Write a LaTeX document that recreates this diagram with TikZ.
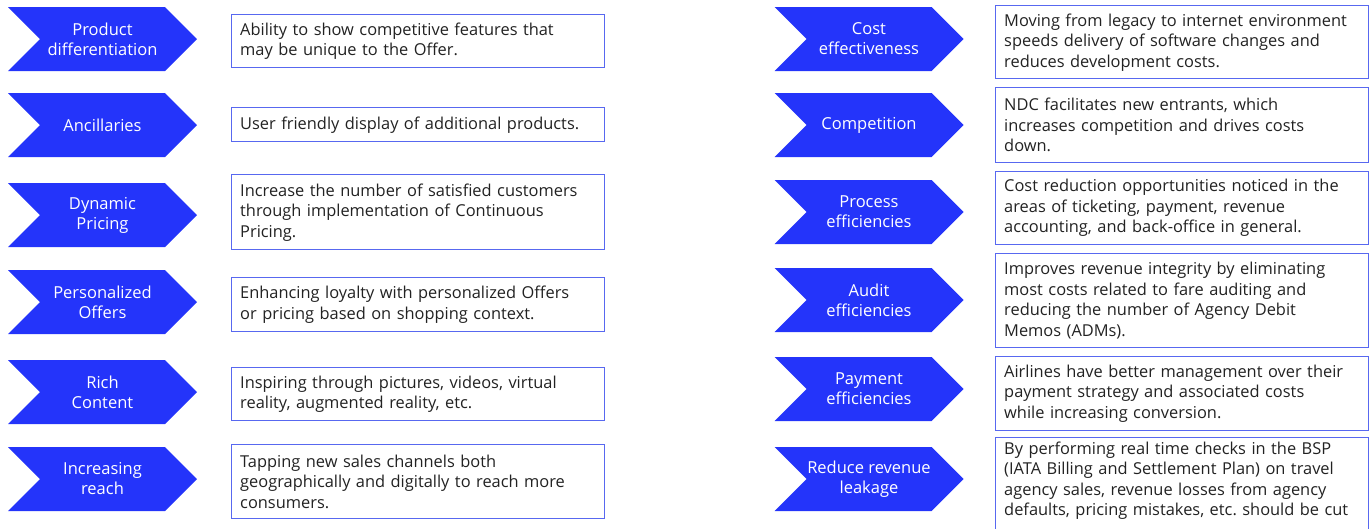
\documentclass[tikz,border=0pt]{standalone}
\usepackage{fontspec}
\setmainfont{Open Sans}
\usetikzlibrary{shapes.symbols}
\definecolor{chevblue}{RGB}{36,52,250}
\definecolor{frameblue}{RGB}{88,104,240}
\definecolor{bodytext}{RGB}{34,34,34}
\frenchspacing

\begin{document}
\begin{tikzpicture}[x=1pt, y=-1pt,
    chevron/.style={signal, signal from=west, signal to=east, signal pointer angle=90,
        fill=chevblue, text=white, align=center, inner sep=0pt,
        minimum width=189pt, minimum height=64pt, font=\fontsize{16.5}{20}\selectfont},
    infobox/.style={draw=frameblue, line width=1.4pt, anchor=north west, text=bodytext,
        align=left, text width=356pt, inner xsep=8.5pt, inner ysep=4pt,
        font=\fontsize{16.4}{20.5}\selectfont}]

    \useasboundingbox (0,0) rectangle (1372,528);

    \node[chevron] (prod) at (102.5,39) {Product\\differentiation};
    \node[chevron] (anc)  at (102.5,125) {Ancillaries};
    \node[chevron] (dyn)  at (102.5,215) {Dynamic\\Pricing};
    \node[chevron] (pers) at (102.5,302) {Personalized\\Offers};
    \node[chevron] (rich) at (102.5,392) {Rich\\Content};
    \node[chevron] (reach) at (102.5,479) {Increasing\\reach};

    \node[infobox, minimum height=53pt] (prodtxt) at (231,14)
        {Ability to show competitive features that\\may be unique to the Offer.};
    \node[infobox, minimum height=34pt] (anctxt) at (231,107)
        {User friendly display of additional products.};
    \node[infobox, minimum height=75pt] (dyntxt) at (231,174)
        {Increase the number of satisfied customers\\through implementation of Continuous\\Pricing.};
    \node[infobox, minimum height=54pt] (perstxt) at (231,277)
        {Enhancing loyalty with personalized Offers\\or pricing based on shopping context.};
    \node[infobox, minimum height=53pt] (richtxt) at (231,367)
        {Inspiring through pictures, videos, virtual\\reality, augmented reality, etc.};
    \node[infobox, minimum height=74pt] (reachtxt) at (231,444)
        {Tapping new sales channels both\\geographically and digitally to reach more\\consumers.};

    \node[chevron] (cost)  at (869,39) {Cost\\effectiveness};
    \node[chevron] (comp)  at (869,125) {Competition};
    \node[chevron] (proc)  at (869,212) {Process\\efficiencies};
    \node[chevron] (audit) at (869,300) {Audit\\efficiencies};
    \node[chevron] (pay)   at (869,389) {Payment\\efficiencies};
    \node[chevron] (leak)  at (869,479) {Reduce revenue\\leakage};

    \node[infobox, minimum height=73pt] (costtxt) at (995,5)
        {Moving from legacy to internet environment\\speeds delivery of software changes and\\reduces development costs.};
    \node[infobox, minimum height=75pt] (comptxt) at (995,87)
        {NDC facilitates new entrants, which\\increases competition and drives costs\\down.};
    \node[infobox, minimum height=73pt] (proctxt) at (995,171)
        {Cost reduction opportunities noticed in the\\areas of ticketing, payment, revenue\\accounting, and back-office in general.};
    \node[infobox, minimum height=94pt] (audittxt) at (995,253)
        {Improves revenue integrity by eliminating\\most costs related to fare auditing and\\reducing the number of Agency Debit\\Memos (ADMs).};
    \node[infobox, minimum height=74pt] (paytxt) at (995,356)
        {Airlines have better management over their\\payment strategy and associated costs\\while increasing conversion.};
    \node[infobox, text depth=100pt] (leaktxt) at (995,437)
        {By performing real time checks in the BSP\\(IATA Billing and Settlement Plan) on travel\\agency sales, revenue losses from agency\\defaults, pricing mistakes, etc. should be cut};
\end{tikzpicture}
\end{document}
